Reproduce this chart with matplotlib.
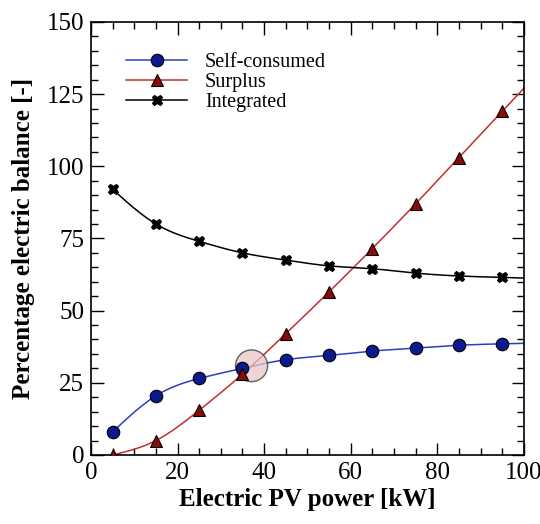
import numpy as np
import matplotlib.pyplot as plt
from matplotlib.patches import Ellipse
from matplotlib.ticker import MultipleLocator

plt.rcParams['font.family'] = ['Liberation Serif', 'DejaVu Serif']

# PV power [kW] and percentage balances
pv_power = [5, 15, 25, 35, 45, 55, 65, 75, 85, 95]
self_consumed = [8, 20.5, 26.5, 30, 33, 34.5, 36, 37, 38, 38.5]
surplus = [0, 5, 15.5, 28, 42, 56.5, 71.5, 87, 103, 119]
integrated = [92, 80, 74, 70, 67.5, 65.5, 64.5, 63, 62, 61.5]


def smooth(x, y, x_end=100, n=300):
    # natural cubic spline through the points, linear run-out past the last one
    x = np.asarray(x, float)
    y = np.asarray(y, float)
    h = np.diff(x)
    m = len(x)
    A = np.zeros((m, m))
    b = np.zeros(m)
    A[0, 0] = A[-1, -1] = 1
    for i in range(1, m - 1):
        A[i, i - 1] = h[i - 1]
        A[i, i] = 2 * (h[i - 1] + h[i])
        A[i, i + 1] = h[i]
        b[i] = 6 * ((y[i + 1] - y[i]) / h[i] - (y[i] - y[i - 1]) / h[i - 1])
    M = np.linalg.solve(A, b)
    xs = np.linspace(x[0], x_end, n)
    ys = np.empty_like(xs)
    for k, t in enumerate(xs):
        if t >= x[-1]:
            slope = (y[-1] - y[-2]) / h[-1] + h[-1] * (2 * M[-1] + M[-2]) / 6
            ys[k] = y[-1] + slope * (t - x[-1])
            continue
        i = min(np.searchsorted(x, t, side='right') - 1, m - 2)
        a = x[i + 1] - t
        c = t - x[i]
        ys[k] = (M[i] * a**3 + M[i + 1] * c**3) / (6 * h[i]) \
            + (y[i] / h[i] - M[i] * h[i] / 6) * a \
            + (y[i + 1] / h[i] - M[i + 1] * h[i] / 6) * c
    return xs, ys


fig = plt.figure(figsize=(5.4, 5.24), dpi=100)
ax = fig.add_axes([0.1685, 0.1317, 0.8015, 0.8265])

series = [
    (self_consumed, 'Self-consumed', '#2a3fc0', 'o', '#0b1a8f', 9),
    (surplus, 'Surplus', '#c03030', '^', '#8b0a0a', 8),
    (integrated, 'Integrated', 'black', 'X', 'black', 7.5),
]
for vals, name, lc, mk, fc, ms in series:
    xs, ys = smooth(pv_power, vals)
    ax.plot(xs, ys, color=lc, lw=1.1, zorder=2)
    ax.plot(pv_power, vals, ls='none', marker=mk, ms=ms, mfc=fc,
            mec='black', mew=0.8, zorder=4)
    ax.plot([], [], color=lc, lw=1.1, marker=mk, ms=ms, mfc=fc,
            mec='black', mew=0.8, label=name)

# highlight of the crossing point
ax.add_patch(Ellipse((37.1, 30.9), 7.4, 11.0, facecolor='#e9c6c6', alpha=0.75,
                     edgecolor='#333333', lw=1.0, zorder=3))

ax.set_xlim(0, 100)
ax.set_ylim(0, 150)
ax.xaxis.set_major_locator(MultipleLocator(20))
ax.xaxis.set_minor_locator(MultipleLocator(5))
ax.yaxis.set_major_locator(MultipleLocator(25))
ax.yaxis.set_minor_locator(MultipleLocator(5))
ax.tick_params(which='both', direction='in', top=True, right=True, width=1.0)
ax.tick_params(which='major', length=9, labelsize=18, pad=5)
ax.tick_params(which='minor', length=5)
for s in ax.spines.values():
    s.set_linewidth(1.2)

ax.set_xlabel('Electric PV power [kW]', fontsize=18, fontweight='bold', labelpad=3)
ax.set_ylabel('Percentage electric balance [-]', fontsize=18, fontweight='bold', labelpad=8)

ax.legend(loc='upper left', bbox_to_anchor=(0.04, 0.97), frameon=False,
          fontsize=14.5, handlelength=3.0, handletextpad=0.9, labelspacing=0.05)

fig.savefig('out.png', dpi=100)
